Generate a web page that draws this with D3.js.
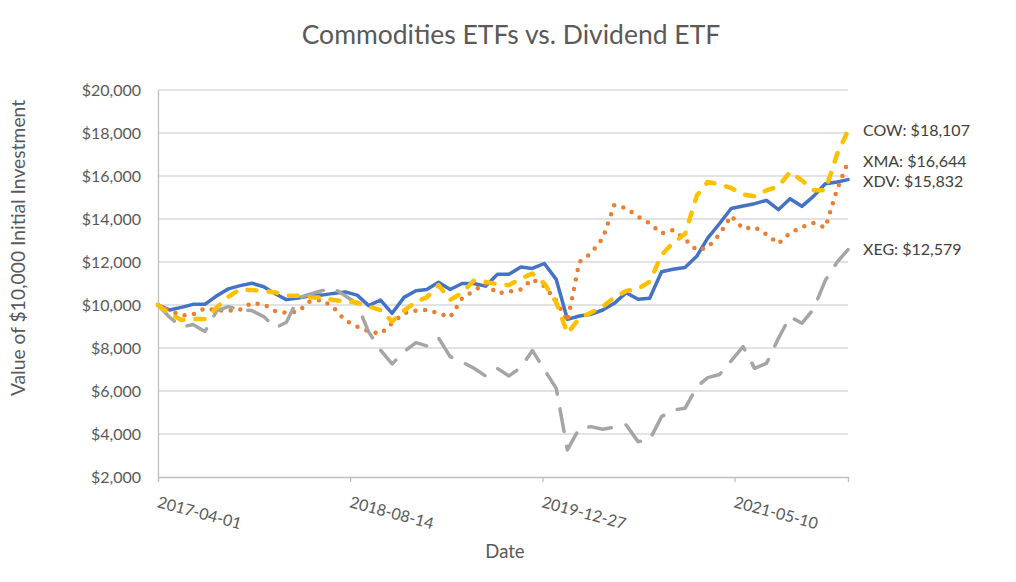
<!DOCTYPE html>
<html>
<head>
<meta charset="utf-8">
<script src="https://cdn.jsdelivr.net/npm/d3@7/dist/d3.min.js"></script>
<style>
  html, body { margin: 0; padding: 0; background: #fff; }
  text { font-family: Lato, "Open Sans", sans-serif; }
</style>
</head>
<body>
<svg id="chart" width="1016" height="582"></svg>
<script>
// ---------- DATA ----------
const months = [
  "2017-04-01","2017-05-01","2017-06-01","2017-07-01","2017-08-01","2017-09-01","2017-10-01","2017-11-01","2017-12-01",
  "2018-01-01","2018-02-01","2018-03-01","2018-04-01","2018-05-01","2018-06-01","2018-07-01","2018-08-01","2018-09-01","2018-10-01","2018-11-01","2018-12-01",
  "2019-01-01","2019-02-01","2019-03-01","2019-04-01","2019-05-01","2019-06-01","2019-07-01","2019-08-01","2019-09-01","2019-10-01","2019-11-01","2019-12-01",
  "2020-01-01","2020-02-01","2020-03-01","2020-04-01","2020-05-01","2020-06-01","2020-07-01","2020-08-01","2020-09-01","2020-10-01","2020-11-01","2020-12-01",
  "2021-01-01","2021-02-01","2021-03-01","2021-04-01","2021-05-01","2021-06-01","2021-07-01","2021-08-01","2021-09-01","2021-10-01","2021-11-01","2021-12-01",
  "2022-01-01","2022-02-01","2022-03-01"
];

const xdv = [10000,9770,9890,10030,10030,10430,10750,10900,11015,10850,10510,10250,10320,10430,10460,10540,10610,10460,9970,10231,9615,
  10354,10661,10723,11061,10723,11000,11000,10877,11430,11430,11769,11700,11930,11190,9333,9488,9566,9767,10078,10574,10264,10310,
  11550,11659,11740,12280,13110,13790,14490,14605,14713,14868,14434,14946,14589,15054,15643,15721,15832];

const xma = [10000,9739,9508,9554,9846,9739,9739,9785,10092,10031,9708,9646,9692,10169,10231,9892,9280,9000,8775,8662,9154,
  9615,9738,9769,9615,9431,10308,10661,11000,10538,10615,10723,11200,10880,10200,9225,12000,12403,13100,14650,14495,14108,13798,
  13333,13488,13050,12543,12680,13290,14150,13550,13628,13287,12853,13349,13628,13814,13600,15400,16644];

const xeg = [10000,9431,8970,9093,8770,9739,9923,9785,9739,9462,8939,9200,10323,10508,10661,10784,10430,10050,8745,7900,7260,
  7830,8250,8100,8465,7600,7350,7070,6700,7050,6700,7100,7880,7000,6120,3258,4265,4343,4219,4312,4420,3645,3723,
  4808,5118,5195,6200,6620,6770,7400,8062,7055,7287,8450,9457,9150,9800,11148,12000,12579];

const cow = [10000,9585,9308,9354,9354,9892,10385,10738,10692,10661,10584,10431,10431,10354,10354,10231,10160,10115,9923,9769,9231,
  9738,10154,10354,10923,10231,10569,11123,11077,10969,10923,11231,11460,11000,10120,8682,9380,9643,9922,10357,10651,10760,11085,
  12325,12899,13300,15100,15720,15612,15442,15147,15054,15333,15519,16186,15798,15333,15333,17038,18107];

const seriesNames = ["XDV", "XMA", "XEG", "COW"];
const xTickLabels = ["2017-04-01", "2018-08-14", "2019-12-27", "2021-05-10"];
const yTickValues = [2000, 4000, 6000, 8000, 10000, 12000, 14000, 16000, 18000, 20000];
const endLabels = ["COW: $18,107", "XMA: $16,644", "XDV: $15,832", "XEG: $12,579"];

const titleText = "Commodities ETFs vs. Dividend ETF";
const xTitle = "Date";
const yTitle = "Value of $10,000 Initial Investment";

// ---------- LAYOUT ----------
const svg = d3.select("#chart");
const plot = { left: 158, right: 848, top: 90, bottom: 477 };
const parse = d3.utcParse("%Y-%m-%d");
const dates = months.map(parse);

const x = d3.scaleUtc()
  .domain([dates[0], dates[dates.length - 1]])
  .range([plot.left, plot.right]);
const y = d3.scaleLinear().domain([2000, 20000]).range([plot.bottom, plot.top]);

svg.append("rect").attr("width", 1016).attr("height", 582).attr("fill", "#fff");

// gridlines
svg.append("g").selectAll("line").data(yTickValues.filter(v => v > 2000)).join("line")
  .attr("x1", plot.left).attr("x2", plot.right)
  .attr("y1", d => y(d)).attr("y2", d => y(d))
  .attr("stroke", "#d9d9d9").attr("stroke-width", 1.3);

// y axis
const yAxis = d3.axisLeft(y).tickValues(yTickValues).tickSize(0).tickPadding(17)
  .tickFormat(d => "$" + d3.format(",")(d));
const gy = svg.append("g").attr("transform", `translate(${plot.left},0)`).call(yAxis);
gy.select(".domain").attr("stroke", "#bfbfbf").attr("stroke-width", 1.3);
gy.selectAll("text").attr("fill", "#595959").style("font-size", "16px");

// x axis
const xTickDates = xTickLabels.map(parse);
const xAxis = d3.axisBottom(x).tickValues(xTickDates).tickSize(5).tickFormat("");
const gx = svg.append("g").attr("transform", `translate(0,${plot.bottom})`).call(xAxis);
gx.select(".domain").attr("stroke", "#bfbfbf").attr("stroke-width", 1.3);
gx.selectAll(".tick line").attr("stroke", "#bfbfbf").attr("stroke-width", 1.3);
gx.selectAll(".tick").append("text")
  .attr("transform", "translate(-2,30) rotate(15)")
  .attr("text-anchor", "start")
  .attr("fill", "#595959")
  .style("font-size", "16px")
  .text((d, i) => xTickLabels[i]);

// lines
const line = d3.line().x((d, i) => x(dates[i])).y(d => y(d)).curve(d3.curveLinear);
const styles = {
  XDV: { data: xdv, color: "#4472c4", width: 3.5, dash: null },
  XMA: { data: xma, color: "#ed7d31", width: 4.5, dash: "0 9.6" },
  XEG: { data: xeg, color: "#a5a5a5", width: 3.5, dash: "23 15" },
  COW: { data: cow, color: "#ffc000", width: 4.5, dash: "9 12" }
};
seriesNames.forEach(name => {
  const s = styles[name];
  svg.append("path")
    .datum(s.data)
    .attr("d", line)
    .attr("fill", "none")
    .attr("stroke", s.color)
    .attr("stroke-width", s.width)
    .attr("stroke-linecap", "round")
    .attr("stroke-linejoin", "round")
    .attr("stroke-dasharray", s.dash);
});

// end labels (small nudges keep the two close labels from colliding)
const endVals = { COW: cow[cow.length - 1], XMA: xma[xma.length - 1], XDV: xdv[xdv.length - 1], XEG: xeg[xeg.length - 1] };
const labelNudge = { COW: 0, XMA: -1.2, XDV: 1.4, XEG: 0 };
endLabels.forEach(lbl => {
  const key = lbl.split(":")[0];
  svg.append("text")
    .attr("x", plot.right + 15)
    .attr("y", y(endVals[key]) + labelNudge[key])
    .attr("dy", "0.35em")
    .attr("fill", "#404040")
    .style("font-size", "16px")
    .text(lbl);
});

// titles
svg.append("text").attr("x", 511).attr("y", 44).attr("text-anchor", "middle")
  .attr("fill", "#595959").style("font-size", "26.5px").text(titleText);
svg.append("text").attr("x", (plot.left + plot.right) / 2 + 2).attr("y", 558).attr("text-anchor", "middle")
  .attr("fill", "#595959").style("font-size", "18.5px").text(xTitle);
svg.append("text").attr("transform", "translate(25,248) rotate(-90)")
  .attr("text-anchor", "middle").attr("fill", "#595959").style("font-size", "19.3px").text(yTitle);
</script>
</body>
</html>
